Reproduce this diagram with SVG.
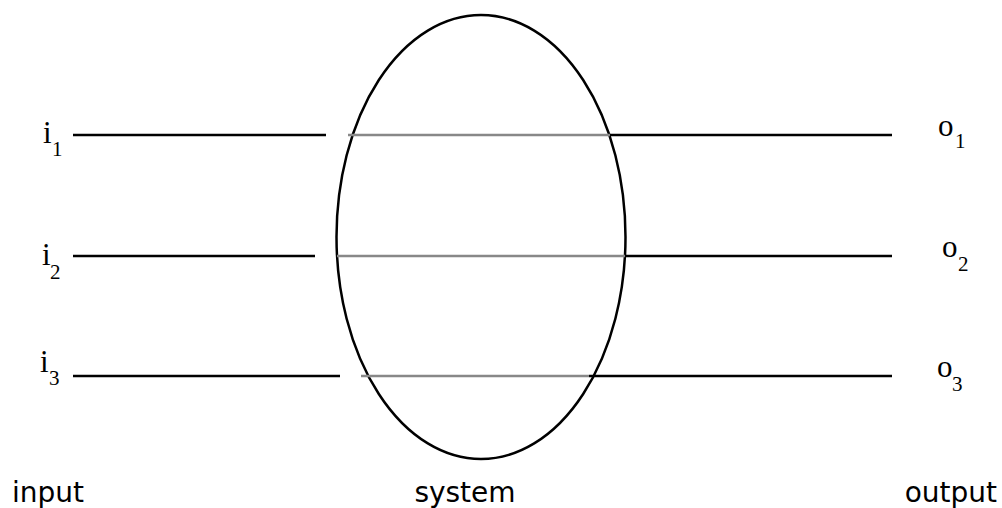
<svg xmlns="http://www.w3.org/2000/svg" width="1002" height="508" viewBox="0 0 1002 508">
<style>
.blk{stroke:#000;stroke-width:2.5;fill:none}
.gry{stroke:#888;stroke-width:2.5;fill:none}
.ser{font-family:"Liberation Serif","Times New Roman",serif;font-size:31px;fill:#000}
.sub{font-size:21px}
.lbl{font-family:"DejaVu Sans",Verdana,sans-serif;font-size:28px;fill:#000}
</style>
<rect width="1002" height="508" fill="#fff"/>
<g id="system">
<ellipse cx="481" cy="237" rx="144.5" ry="222" class="blk"/>
<text x="465" y="502" class="lbl" text-anchor="middle">system</text>
</g>
<g id="connectors">
<line x1="73" y1="135" x2="326" y2="135" class="blk"/>
<line x1="348" y1="135" x2="610" y2="135" class="gry"/>
<line x1="610" y1="135" x2="892" y2="135" class="blk"/>
<line x1="73" y1="256" x2="315" y2="256" class="blk"/>
<line x1="337" y1="256" x2="625" y2="256" class="gry"/>
<line x1="625" y1="256" x2="892" y2="256" class="blk"/>
<line x1="73" y1="376" x2="340" y2="376" class="blk"/>
<line x1="361" y1="376" x2="589" y2="376" class="gry"/>
<line x1="589" y1="376" x2="892" y2="376" class="blk"/>
</g>
<g id="i1"><text x="43" y="143" class="ser">i</text><text x="52" y="156" class="ser sub">1</text></g>
<g id="i2"><text x="42" y="265" class="ser">i</text><text x="50" y="279" class="ser sub">2</text></g>
<g id="i3"><text x="40" y="372" class="ser">i</text><text x="49" y="385" class="ser sub">3</text></g>
<g id="o1"><text x="938" y="136" class="ser">o</text><text x="955" y="148" class="ser sub">1</text></g>
<g id="o2"><text x="942" y="257" class="ser">o</text><text x="958" y="271" class="ser sub">2</text></g>
<g id="o3"><text x="937" y="377" class="ser">o</text><text x="952" y="391" class="ser sub">3</text></g>
<g id="input"><text x="12" y="502" class="lbl">input</text></g>
<g id="output"><text x="997" y="502" class="lbl" text-anchor="end">output</text></g>
</svg>
